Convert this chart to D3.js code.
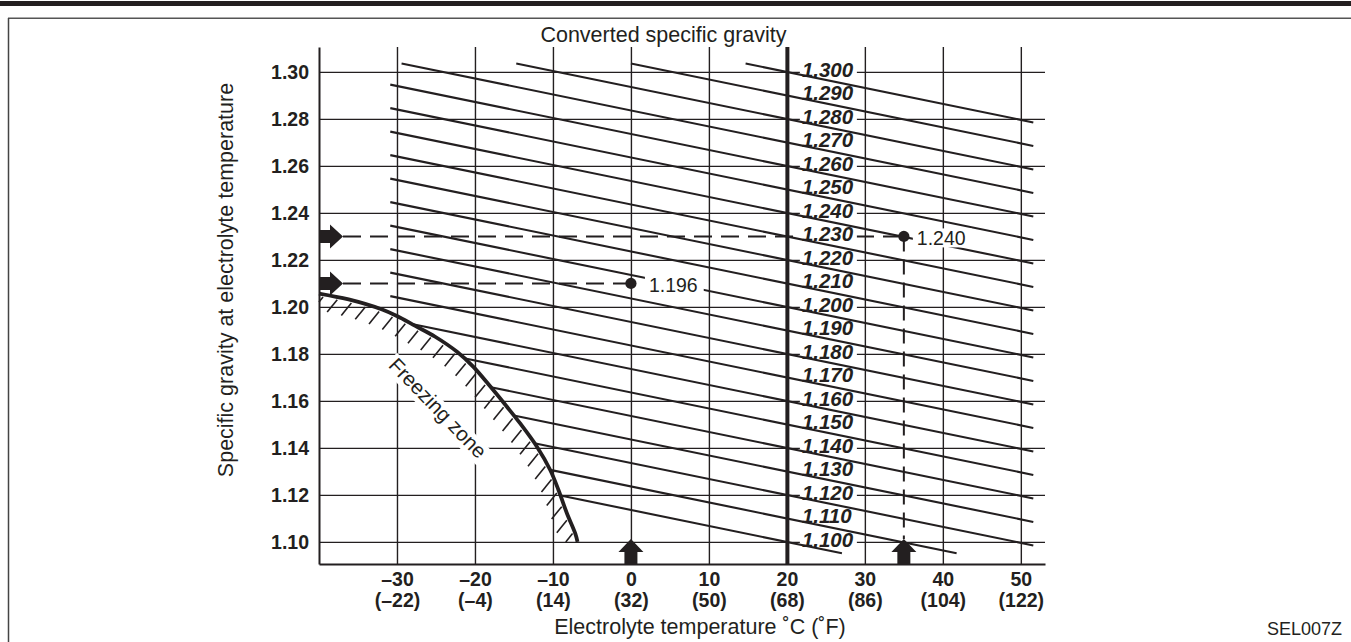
<!DOCTYPE html>
<html>
<head>
<meta charset="utf-8">
<title>Converted specific gravity</title>
<script src="https://cdn.jsdelivr.net/npm/d3@7"></script>
<style>
  body { margin: 0; background: #fff; }
  svg text { font-family: "Liberation Sans", Arial, Helvetica, sans-serif; fill: #231f20; }
</style>
</head>
<body>
<svg id="chart" width="1351" height="642"></svg>
<script>
"use strict"

// valores
var tempC = [-30, -20, -10, 0, 10, 20, 30, 40, 50];
var tempF = [-22, -4, 14, 32, 50, 68, 86, 104, 122];
var sgTicks = [1.10, 1.12, 1.14, 1.16, 1.18, 1.20, 1.22, 1.24, 1.26, 1.28, 1.30];
var convLines = [1.100, 1.110, 1.120, 1.130, 1.140, 1.150, 1.160, 1.170, 1.180, 1.190, 1.200,
                 1.210, 1.220, 1.230, 1.240, 1.250, 1.260, 1.270, 1.280, 1.290, 1.300];
// curva de congelamento (temp C, densidade)
var freezeT  = [-40, -36.2, -31.9, -30, -27.65, -25.1, -22.3, -20.2, -18.0, -15.9, -14.2, -12.05, -10.35, -9.28, -8.2, -7.14, -6.85];
var freezeSG = [1.2057, 1.2032, 1.1989, 1.1961, 1.1919, 1.1873, 1.1809, 1.1745, 1.1660, 1.1575, 1.1504, 1.1405, 1.1306, 1.1220, 1.1121, 1.1036, 1.1000];
// exemplos de leitura
var readT = [0, 35];
var readSG = [1.21, 1.23];
var readConv = ["1.196", "1.240"];
var coef = 0.00068;          // variacao de densidade por grau C
var lineT = [-30.86, 51.6];  // extensao das linhas diagonais
var lineSG = [1.0952, 1.3036];

var ink = "#231f20";
var svg = d3.select("#chart");

var x = d3.scaleLinear().domain([-40, 53.1]).range([319, 1045]);
var y = d3.scaleLinear().domain([1.0906, 1.3106]).range([564, 47]);

// moldura da pagina
svg.append("rect").attr("x", 0).attr("y", 1).attr("width", 1351).attr("height", 5).attr("fill", ink);
svg.append("line").attr("x1", 8).attr("x2", 1351).attr("y1", 18.3).attr("y2", 18.3)
   .attr("stroke", "#555").attr("stroke-width", 1.5);
svg.append("line").attr("x1", 8.5).attr("x2", 8.5).attr("y1", 18).attr("y2", 642)
   .attr("stroke", "#444").attr("stroke-width", 1.5);

// grade
var gy = svg.append("g").attr("transform", "translate(" + x.range()[0] + ",0)")
  .call(d3.axisLeft(y).tickValues(sgTicks).tickSize(-(x.range()[1] - x.range()[0]))
        .tickSizeOuter(0).tickPadding(10).tickFormat(d3.format(".2f")));
gy.selectAll(".tick line").attr("stroke", ink).attr("stroke-width", 1.4);
gy.select(".domain").attr("stroke", ink).attr("stroke-width", 2);
gy.selectAll(".tick text").attr("font-size", 19.5).attr("font-weight", "bold")
  .attr("font-family", null).attr("fill", ink).attr("dy", "0.36em");

var fmt = function(v) { return v < 0 ? "\u2013" + Math.abs(v) : String(v); };
var gx = svg.append("g").attr("transform", "translate(0," + y.range()[0] + ")")
  .call(d3.axisBottom(x).tickValues(tempC).tickSize(-(y.range()[0] - y.range()[1])).tickSizeOuter(0));
gx.selectAll(".tick line").attr("stroke", ink).attr("stroke-width", function(d) { return d === 20 ? 4 : 1.4; });
gx.select(".domain").attr("stroke", ink).attr("stroke-width", 2);
gx.selectAll(".tick text").each(function(d, i) {
  var t = d3.select(this);
  t.text(null).attr("y", null).attr("dy", null).attr("font-size", 19.5).attr("font-weight", "bold").attr("fill", ink);
  t.append("tspan").attr("x", 0).attr("y", 21.5).text(fmt(d));
  t.append("tspan").attr("x", 0).attr("y", 42.5).text("(" + fmt(tempF[i]) + ")");
});
svg.selectAll("g").attr("font-family", null);

// linhas tracejadas das leituras
var arrowLen = 24;
readT.forEach(function(t, i) {
  svg.append("line").attr("x1", x.range()[0] + arrowLen).attr("x2", x(t))
     .attr("y1", y(readSG[i])).attr("y2", y(readSG[i]))
     .attr("stroke", ink).attr("stroke-width", 2).attr("stroke-dasharray", "18,9");
  if (t % 10 !== 0) {
    svg.append("line").attr("x1", x(t)).attr("x2", x(t))
       .attr("y1", y(readSG[i])).attr("y2", y.range()[0] - 25)
       .attr("stroke", ink).attr("stroke-width", 2).attr("stroke-dasharray", "15,8");
  }
});

// fundo branco dos rotulos das linhas
var labFs = 20.5;
var labX = x(20) + 15;
svg.selectAll("rect.labbg").data(convLines).enter().append("rect")
   .attr("class", "labbg")
   .attr("x", labX - 2).attr("width", 57)
   .attr("y", function(d) { return y(d) - 11; }).attr("height", 17)
   .attr("fill", "#fff");

// linhas diagonais de densidade convertida
function curveAt(t) {
  var i = d3.bisectRight(freezeT, t);
  if (i <= 0) return freezeSG[0];
  if (i >= freezeT.length) return -Infinity;
  var f = (t - freezeT[i - 1]) / (freezeT[i] - freezeT[i - 1]);
  return freezeSG[i - 1] + f * (freezeSG[i] - freezeSG[i - 1]);
}
function sgOn(c, t) { return c - coef * (t - 20); }

var segs = convLines.map(function(c) {
  var t0 = Math.max(lineT[0], 20 + (c - lineSG[1]) / coef);
  if (sgOn(c, t0) < curveAt(t0)) {
    var a = t0, b = freezeT[freezeT.length - 1];
    for (var k = 0; k < 40; k++) {
      var m = (a + b) / 2;
      if (sgOn(c, m) < curveAt(m)) a = m; else b = m;
    }
    t0 = b;
  }
  var t1 = Math.min(lineT[1], 20 + (c - lineSG[0]) / coef);
  return [[t0, sgOn(c, t0)], [t1, sgOn(c, t1)]];
});
var line = d3.line().x(function(d) { return x(d[0]); }).y(function(d) { return y(d[1]); });
svg.selectAll("path.conv").data(segs).enter().append("path")
   .attr("class", "conv").attr("d", line)
   .attr("fill", "none").attr("stroke", ink).attr("stroke-width", 2.1);

// curva de congelamento e hachura
var fpts = freezeT.map(function(t, i) { return [t, freezeSG[i]]; });
var fpath = svg.append("path")
   .attr("d", line.curve(d3.curveCatmullRom)(fpts))
   .attr("fill", "none").attr("stroke", ink).attr("stroke-width", 3.8);
var node = fpath.node(), total = node.getTotalLength();
var dir = [-0.63, 0.78], yMin = y(1.10), xMin = x.range()[0];
var hatch = [];
for (var s = 6; s < total; s += 14.5) {
  var p = node.getPointAtLength(s);
  var x1 = p.x + dir[0] * 3, y1 = p.y + dir[1] * 3;
  var x2 = p.x + dir[0] * 19, y2 = p.y + dir[1] * 19;
  if (y1 >= yMin) continue;
  if (y2 > yMin) { var f = (yMin - y1) / (y2 - y1); x2 = x1 + f * (x2 - x1); y2 = yMin; }
  if (x2 < xMin) { var g = (xMin - x1) / (x2 - x1); y2 = y1 + g * (y2 - y1); x2 = xMin; }
  hatch.push([x1, y1, x2, y2]);
}
svg.selectAll("line.hatch").data(hatch).enter().append("line")
   .attr("class", "hatch")
   .attr("x1", function(d) { return d[0]; }).attr("y1", function(d) { return d[1]; })
   .attr("x2", function(d) { return d[2]; }).attr("y2", function(d) { return d[3]; })
   .attr("stroke", ink).attr("stroke-width", 1.6);

// texto da zona de congelamento
var fz = svg.append("g").attr("transform", "translate(" + x(-31.2) + "," + y(1.1748) + ") rotate(46)");
var fzBg = fz.append("rect").attr("fill", "#fff");
var fzText = fz.append("text").attr("font-size", 20.5).text("Freezing zone");
var fzLen = fzText.node().getComputedTextLength();
fzBg.attr("x", -3).attr("y", -16).attr("width", fzLen + 6).attr("height", 21);

// rotulos das linhas
svg.selectAll("text.conv").data(convLines).enter().append("text")
   .attr("class", "conv")
   .attr("x", labX).attr("y", function(d) { return y(d) + 5; })
   .attr("font-size", labFs).attr("font-weight", "bold").attr("font-style", "italic")
   .text(function(d) { return d3.format(".3f")(d); });

// pontos e resultados
readT.forEach(function(t, i) {
  var px = x(t), py = y(readSG[i]);
  var dx = i === 0 ? 18 : 13;
  var lab = svg.append("text").attr("x", px + dx).attr("y", py + 9)
     .attr("font-size", 19.5).text(readConv[i]);
  var w = lab.node().getComputedTextLength();
  svg.insert("rect", function() { return lab.node(); })
     .attr("x", px + dx - 4).attr("y", py - 8).attr("width", w + 10).attr("height", 19)
     .attr("fill", "#fff");
  svg.append("circle").attr("cx", px).attr("cy", py).attr("r", 5.6).attr("fill", ink);

  // seta da esquerda
  var tx = x.range()[0] + arrowLen, ty = py;
  svg.append("polygon").attr("fill", ink).attr("points", [
    [tx - 24, ty - 6.5], [tx - 13, ty - 6.5], [tx - 13, ty - 12], [tx, ty],
    [tx - 13, ty + 12], [tx - 13, ty + 6.5], [tx - 24, ty + 6.5]].join(" "));
  // seta de baixo
  var ux = px, uy = y.range()[0] - 25;
  svg.append("polygon").attr("fill", ink).attr("points", [
    [ux - 6.5, uy + 25], [ux - 6.5, uy + 13], [ux - 12.5, uy + 13], [ux, uy],
    [ux + 12.5, uy + 13], [ux + 6.5, uy + 13], [ux + 6.5, uy + 25]].join(" "));
});

// titulos
svg.append("text").attr("x", 663.5).attr("y", 42).attr("text-anchor", "middle")
   .attr("font-size", 21.5).text("Converted specific gravity");
svg.append("text").attr("transform", "translate(233,280) rotate(-90)").attr("text-anchor", "middle")
   .attr("font-size", 21.5).text("Specific gravity at electrolyte temperature");
svg.append("text").attr("x", 700).attr("y", 634).attr("text-anchor", "middle")
   .attr("font-size", 21.5).text("Electrolyte temperature \u02DAC (\u02DAF)");
svg.append("text").attr("x", 1342).attr("y", 635).attr("text-anchor", "end")
   .attr("font-size", 18).text("SEL007Z");
</script>
</body>
</html>
